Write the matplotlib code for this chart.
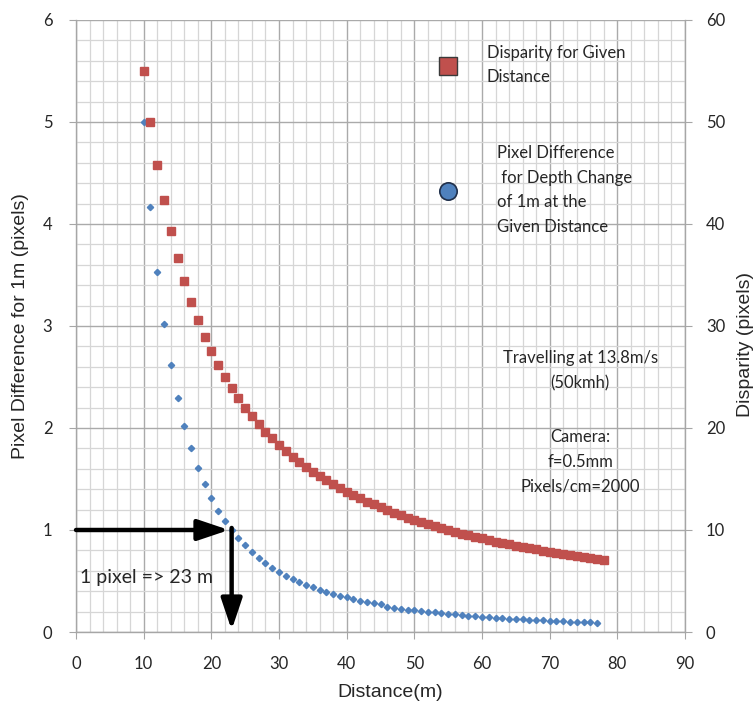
import matplotlib.pyplot as plt
from matplotlib.lines import Line2D
from matplotlib.ticker import MultipleLocator

plt.rcParams['font.family'] = ['Lato', 'DejaVu Sans']

# disparity (pixels) for each distance (m)
dist_red = list(range(10, 79))
disparity = [55.0, 50.0, 45.83, 42.31, 39.29, 36.67, 34.38, 32.35, 30.56, 28.95,
             27.5, 26.19, 25.0, 23.91, 22.92, 22.0, 21.15, 20.37, 19.64, 18.97,
             18.33, 17.74, 17.19, 16.67, 16.18, 15.71, 15.28, 14.86, 14.47, 14.10,
             13.75, 13.41, 13.10, 12.79, 12.5, 12.22, 11.96, 11.70, 11.46, 11.22,
             11.0, 10.78, 10.58, 10.38, 10.19, 10.0, 9.82, 9.65, 9.48, 9.32,
             9.17, 9.02, 8.87, 8.73, 8.59, 8.46, 8.33, 8.21, 8.09, 7.97,
             7.86, 7.75, 7.64, 7.53, 7.43, 7.33, 7.24, 7.14, 7.05]

# pixel difference for 1m depth change
dist_blue = list(range(10, 78))
pixdiff = [5.0, 4.17, 3.53, 3.02, 2.62, 2.29, 2.02, 1.80, 1.61, 1.45,
           1.31, 1.19, 1.09, 1.00, 0.92, 0.85, 0.78, 0.73, 0.68, 0.63,
           0.59, 0.55, 0.52, 0.49, 0.46, 0.44, 0.41, 0.39, 0.37, 0.35,
           0.34, 0.32, 0.30, 0.29, 0.28, 0.27, 0.25, 0.24, 0.23, 0.22,
           0.216, 0.207, 0.200, 0.192, 0.185, 0.179, 0.172, 0.166, 0.161, 0.155,
           0.150, 0.145, 0.141, 0.136, 0.132, 0.128, 0.124, 0.121, 0.117, 0.114,
           0.111, 0.108, 0.105, 0.102, 0.099, 0.096, 0.094, 0.092]

RED = '#C0504D'
BLUE = '#4F81BD'
TXT = '#262626'
LABEL_FONT = ['Liberation Sans', 'DejaVu Sans']

fig = plt.figure(figsize=(7.54, 7.13), dpi=100)
ax = fig.add_axes([0.1008, 0.1136, 0.8077, 0.8584])
ax2 = ax.twinx()

ax.set_xlim(0, 90)
ax.set_ylim(0, 6)
ax2.set_ylim(0, 60)

ax.xaxis.set_major_locator(MultipleLocator(10))
ax.xaxis.set_minor_locator(MultipleLocator(2))
ax.yaxis.set_major_locator(MultipleLocator(1))
ax.yaxis.set_minor_locator(MultipleLocator(0.2))
ax2.yaxis.set_major_locator(MultipleLocator(10))

ax.grid(which='major', color='#aaaaaa', lw=1.0)
ax.grid(which='minor', color='#d6d6d6', lw=0.9)
ax.set_axisbelow(True)

for a in (ax, ax2):
    for s in a.spines.values():
        s.set_visible(False)
ax.spines['left'].set_visible(True)
ax.spines['bottom'].set_visible(True)
ax2.spines['right'].set_visible(True)
for s in (ax.spines['left'], ax.spines['bottom'], ax2.spines['right']):
    s.set_color('#a6a6a6')
    s.set_linewidth(1.0)

ax.tick_params(which='minor', length=0)
ax.tick_params(which='major', length=5, color='#a6a6a6', labelsize=12,
               labelcolor=TXT, pad=12)
ax2.tick_params(which='major', length=5, color='#a6a6a6', labelsize=12,
                labelcolor=TXT, pad=10)
ax2.tick_params(which='minor', length=0)

ax.plot(dist_blue, pixdiff, 'D', color=BLUE, ms=3.2, mec=BLUE, zorder=3)
ax2.plot(dist_red, disparity, 's', color=RED, ms=5.2, mec=RED, zorder=3)

ax.set_xlabel('Distance(m)', fontsize=14, color=TXT, family=LABEL_FONT)
ax.xaxis.set_label_coords(0.516, -0.085)
ax.set_ylabel('Pixel Difference for 1m (pixels)', fontsize=14, color=TXT,
              labelpad=10, family=LABEL_FONT)
ax2.set_ylabel('Disparity (pixels)', fontsize=14, color=TXT, labelpad=6,
               family=LABEL_FONT)
ax2.yaxis.set_label_coords(1.085, 0.47)

# arrows reading off 1 pixel
arrow = dict(arrowstyle='-|>,head_width=0.32,head_length=0.95', lw=3.2,
             color='black', mutation_scale=20, shrinkA=0, shrinkB=0)
ax.annotate('', xy=(22.6, 1), xytext=(0, 1), arrowprops=arrow, zorder=5)
ax.annotate('', xy=(23, 0.02), xytext=(23, 1.02), arrowprops=arrow, zorder=5)
ax.text(0.6, 0.53, '1 pixel => 23 m', fontsize=14, color=TXT, va='center', ha='left')

# legend entries (two separate boxes as in the original)
sq = Line2D([], [], ls='', marker='s', ms=12.5, mfc=RED, mec='#3a3a3a', mew=1.0)
ci = Line2D([], [], ls='', marker='o', ms=12.5, mfc=BLUE, mec='#1f2f4a', mew=1.2)
common = dict(loc='center left', frameon=False, fontsize=12, handlelength=1.0,
              borderpad=0, borderaxespad=0)
leg1 = fig.legend([sq], ['Disparity for Given\nDistance'],
                  bbox_to_anchor=(440 / 754, 1 - 65 / 713), handletextpad=1.8, **common)
leg2 = fig.legend([ci], ['Pixel Difference\n for Depth Change\nof 1m at the\nGiven Distance'],
                  bbox_to_anchor=(440 / 754, 1 - 190 / 713), handletextpad=2.4, **common)
for leg in (leg1, leg2):
    for t in leg.get_texts():
        t.set_color(TXT)
        t.set_linespacing(1.68)

ax.text(0.828, 0.427, 'Travelling at 13.8m/s\n(50kmh)', transform=ax.transAxes,
        ha='center', va='center', fontsize=12, color=TXT, linespacing=1.65)
ax.text(0.828, 0.278, 'Camera:\nf=0.5mm\nPixels/cm=2000', transform=ax.transAxes,
        ha='center', va='center', fontsize=12, color=TXT, linespacing=1.65)

fig.savefig('out.png', dpi=100)
